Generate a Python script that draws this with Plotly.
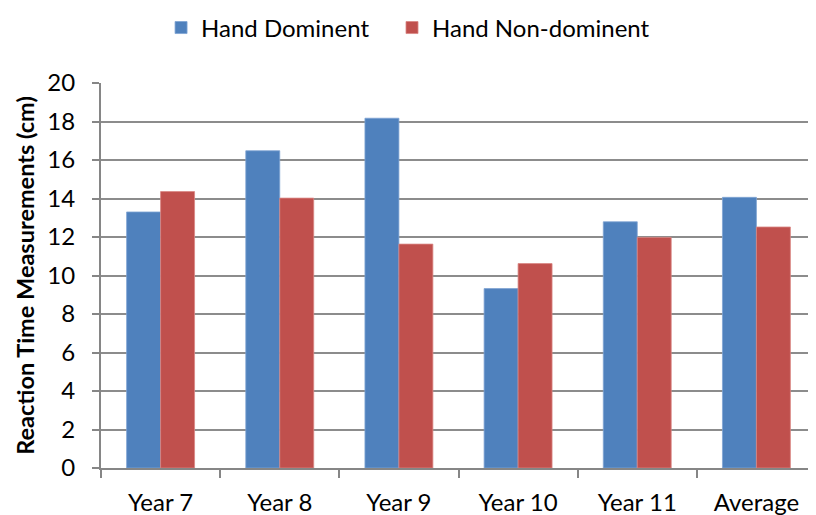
import plotly.graph_objects as go

categories = ["Year 7", "Year 8", "Year 9", "Year 10", "Year 11", "Average"]
dominant = [13.3, 16.48, 18.17, 9.32, 12.79, 14.06]
non_dominant = [14.36, 14.02, 11.63, 10.62, 11.98, 12.52]
y_ticks = [0, 2, 4, 6, 8, 10, 12, 14, 16, 18, 20]

FONT = "Lato, 'Open Sans', sans-serif"

fig = go.Figure()
fig.add_trace(go.Bar(name="Hand Dominent", x=categories, y=dominant, legend="legend",
                     marker=dict(color="#4F81BD", line=dict(color="#7FA3D3", width=0.8))))
fig.add_trace(go.Bar(name="Hand Non-dominent", x=categories, y=non_dominant, legend="legend2",
                     marker=dict(color="#C0504D", line=dict(color="#D98684", width=0.8))))

legend_style = dict(orientation="h", xanchor="left", y=1.143, yanchor="middle",
                    font=dict(size=24), itemwidth=30)

# page body has an 8px margin, so the figure is offset by (8, 8)
fig.update_layout(
    width=808, height=507,
    margin=dict(l=93, r=0, t=75, b=47, autoexpand=False),
    paper_bgcolor="white", plot_bgcolor="white",
    barmode="group", bargap=0.43, bargroupgap=0,
    font=dict(family=FONT, size=24, color="#000000"),
    legend=dict(x=0.084, **legend_style),
    legend2=dict(x=0.407, **legend_style),
    showlegend=True,
)
fig.update_xaxes(
    showline=True, linecolor="#868686", linewidth=2,
    ticks="outside", tickson="boundaries", ticklen=8, tickcolor="#868686", tickwidth=2,
    tickfont=dict(size=24), showgrid=False, ticklabelstandoff=12,
)
fig.update_yaxes(
    range=[0, 20], tickvals=y_ticks, ticktext=[str(v) for v in y_ticks],
    showline=True, linecolor="#868686", linewidth=2,
    ticks="outside", ticklen=7, tickcolor="#868686", tickwidth=2,
    showgrid=True, gridcolor="#8C8C8C", gridwidth=2,
    tickfont=dict(size=24), ticklabelstandoff=12,
    title=dict(text="<b>Reaction Time Measurements (cm)</b>", font=dict(size=23.5), standoff=6),
    zeroline=False,
)

fig.write_html("out.html")
